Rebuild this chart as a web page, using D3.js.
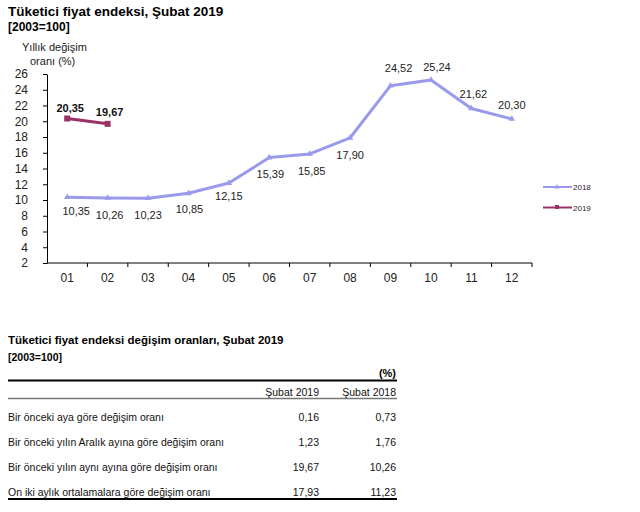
<!DOCTYPE html>
<html>
<head>
<meta charset="utf-8">
<script src="https://cdn.jsdelivr.net/npm/d3@7.9.0/dist/d3.min.js"></script>
<style>
  body { margin: 0; background: #fff; }
  svg { font-family: Arial, "Liberation Sans", sans-serif; }
</style>
</head>
<body>
<svg width="640" height="512"></svg>
<script>
// months and yearly change values
const months = ["01", "02", "03", "04", "05", "06", "07", "08", "09", "10", "11", "12"];
const values2018 = [10.35, 10.26, 10.23, 10.85, 12.15, 15.39, 15.85, 17.90, 24.52, 25.24, 21.62, 20.30];
const values2019 = [20.35, 19.67];
const yTicks = [2, 4, 6, 8, 10, 12, 14, 16, 18, 20, 22, 24, 26];

// table data
const tableCols = ["Şubat 2019", "Şubat 2018"];
const tableRows = [
  "Bir önceki aya göre değişim oranı",
  "Bir önceki yılın Aralık ayına göre değişim oranı",
  "Bir önceki yılın aynı ayına göre değişim oranı",
  "On iki aylık ortalamalara göre değişim oranı"
];
const tableFeb2019 = ["0,16", "1,23", "19,67", "17,93"];
const tableFeb2018 = ["0,73", "1,76", "10,26", "11,23"];

// label placement for the 2018 series (offsets from the point)
const labelDx = [9, 2, 0, 1, 0, 1, 2, 0, 8, 6, 2, 0];
const labelDy = [18, 21, 21, 20, 17, 20, 21, 21, -14, -9, -10, -10];

const c2018 = "#9a9aec";
const c2019 = "#993366";
const fmt = v => v.toFixed(2).replace(".", ",");

const svg = d3.select("svg");

// titles
svg.append("text").attr("x", 8).attr("y", 16)
  .attr("font-size", 13.5).attr("font-weight", "bold").text("Tüketici fiyat endeksi, Şubat 2019");
svg.append("text").attr("x", 8).attr("y", 31)
  .attr("font-size", 12).attr("font-weight", "bold").text("[2003=100]");
svg.append("text").attr("x", 22).attr("y", 51)
  .attr("font-size", 11).attr("fill", "#222").text("Yıllık  değişim");
svg.append("text").attr("x", 30).attr("y", 65)
  .attr("font-size", 11).attr("fill", "#222").text("oranı  (%)");

const x = d3.scaleBand().domain(months).range([47, 532]);
const y = d3.scaleLinear().domain([2, 26]).range([263, 74]);

// y axis
const yAxis = svg.append("g").attr("transform", "translate(47,0)")
  .call(d3.axisLeft(y).tickValues(yTicks).tickSize(4).tickSizeOuter(0).tickPadding(15));
yAxis.selectAll("text").attr("font-size", 12).attr("fill", "#222")
  .attr("font-family", "Arial, 'Liberation Sans', sans-serif");
yAxis.select(".domain").attr("stroke", "#000");

// x axis with ticks at band boundaries
const xg = svg.append("g").attr("transform", "translate(0,263)");
xg.append("line").attr("x1", 47).attr("x2", 532).attr("stroke", "#000");
months.forEach(m => {
  xg.append("line").attr("x1", x(m) + x.bandwidth()).attr("x2", x(m) + x.bandwidth())
    .attr("y1", 0).attr("y2", 4).attr("stroke", "#000");
  xg.append("text").attr("x", x(m) + x.bandwidth() / 2).attr("y", 19)
    .attr("text-anchor", "middle").attr("font-size", 12).attr("fill", "#222").text(m);
});

const cx = m => x(m) + x.bandwidth() / 2;
const line = d3.line().x(d => cx(d.m)).y(d => y(d.v));

const d2018 = months.map((m, i) => ({ m, v: values2018[i], dx: labelDx[i], dy: labelDy[i] }));
const d2019 = values2019.map((v, i) => ({ m: months[i], v }));

svg.append("path").datum(d2018).attr("d", line)
  .attr("fill", "none").attr("stroke", c2018).attr("stroke-width", 3).attr("stroke-linejoin", "round");
svg.selectAll(".tri").data(d2018).join("path")
  .attr("transform", d => `translate(${cx(d.m)},${y(d.v)})`)
  .attr("d", d3.symbol(d3.symbolTriangle, 18)).attr("fill", c2018);
svg.selectAll(".l18").data(d2018).join("text")
  .attr("x", d => cx(d.m) + d.dx).attr("y", d => y(d.v) + d.dy)
  .attr("text-anchor", "middle").attr("font-size", 11).attr("fill", "#222")
  .text(d => fmt(d.v));

svg.append("path").datum(d2019).attr("d", line)
  .attr("fill", "none").attr("stroke", c2019).attr("stroke-width", 3);
svg.selectAll(".sq").data(d2019).join("rect")
  .attr("x", d => cx(d.m) - 3).attr("y", d => y(d.v) - 3)
  .attr("width", 6).attr("height", 6).attr("fill", c2019);
svg.selectAll(".l19").data(d2019).join("text")
  .attr("x", (d, i) => cx(d.m) + (i === 0 ? 3 : 2)).attr("y", (d, i) => y(d.v) - (i === 0 ? 6 : 8))
  .attr("text-anchor", "middle").attr("font-size", 11).attr("font-weight", "bold").attr("fill", "#111")
  .text(d => fmt(d.v));

// legend
[["2018", c2018], ["2019", c2019]].forEach(([lab, col], i) => {
  const ly = 187 + i * 20.5;
  svg.append("line").attr("x1", 543).attr("x2", 572).attr("y1", ly).attr("y2", ly)
    .attr("stroke", col).attr("stroke-width", 2);
  if (i === 0) {
    svg.append("path").attr("transform", `translate(557,${ly})`)
      .attr("d", d3.symbol(d3.symbolTriangle, 12)).attr("fill", col);
  } else {
    svg.append("rect").attr("x", 555).attr("y", ly - 2.5).attr("width", 4).attr("height", 4).attr("fill", col);
  }
  svg.append("text").attr("x", 573).attr("y", ly + 3).attr("font-size", 8).attr("fill", "#222").text(lab);
});

// table section
svg.append("text").attr("x", 8).attr("y", 344)
  .attr("font-size", 11.5).attr("font-weight", "bold").text("Tüketici fiyat endeksi değişim oranları, Şubat 2019");
svg.append("text").attr("x", 8).attr("y", 361)
  .attr("font-size", 10.5).attr("font-weight", "bold").text("[2003=100]");
svg.append("text").attr("x", 396).attr("y", 377).attr("text-anchor", "end")
  .attr("font-size", 11).attr("font-weight", "bold").text("(%)");
svg.append("line").attr("x1", 8).attr("x2", 397).attr("y1", 380.5).attr("y2", 380.5)
  .attr("stroke", "#000").attr("stroke-width", 2);

const colX = [319, 396];
tableCols.forEach((c, i) => {
  svg.append("text").attr("x", colX[i]).attr("y", 396).attr("text-anchor", "end")
    .attr("font-size", 10.5).attr("fill", "#111").text(c);
});
svg.append("line").attr("x1", 8).attr("x2", 397).attr("y1", 398.5).attr("y2", 398.5)
  .attr("stroke", "#777").attr("stroke-width", 1.5);

const rowY = d3.scalePoint().domain(d3.range(tableRows.length)).range([421, 496]);
tableRows.forEach((r, i) => {
  const ry = rowY(i);
  svg.append("text").attr("x", 8).attr("y", ry).attr("font-size", 10.5).attr("fill", "#111").text(r);
  svg.append("text").attr("x", colX[0]).attr("y", ry).attr("text-anchor", "end")
    .attr("font-size", 10.5).attr("fill", "#111").text(tableFeb2019[i]);
  svg.append("text").attr("x", colX[1]).attr("y", ry).attr("text-anchor", "end")
    .attr("font-size", 10.5).attr("fill", "#111").text(tableFeb2018[i]);
});
svg.append("line").attr("x1", 8).attr("x2", 397).attr("y1", 499).attr("y2", 499)
  .attr("stroke", "#000").attr("stroke-width", 2);
</script>
</body>
</html>
